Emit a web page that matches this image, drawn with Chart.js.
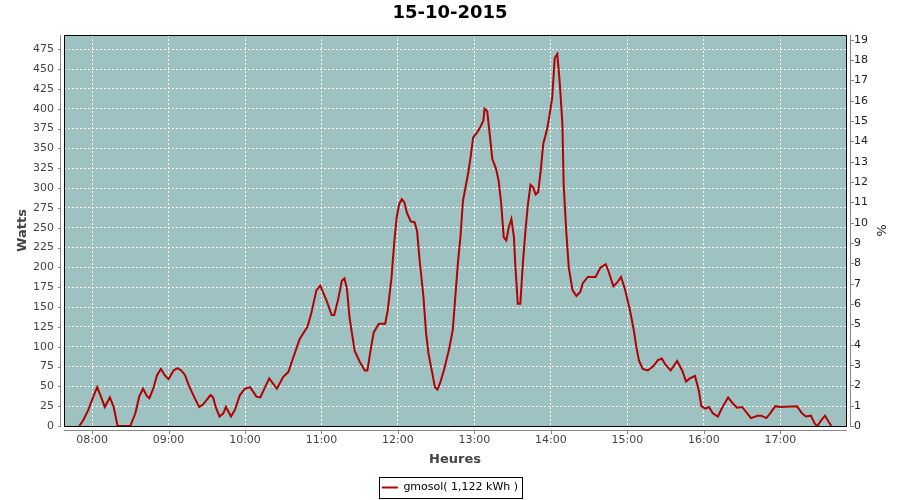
<!DOCTYPE html>
<html><head><meta charset="utf-8">
<script src="https://cdn.jsdelivr.net/npm/chart.js@4.4.0/dist/chart.umd.min.js"></script>
<style>html,body{margin:0;padding:0;background:#fff}canvas{display:block}</style>
</head><body>
<canvas id="c" width="900" height="500"></canvas>
<script>
const chartTitle = '15-10-2015';
const seriesLabel = 'gmosol( 1,122 kWh )';
const xAxisTitle = 'Heures';
const yAxisTitle = 'Watts';
const y2AxisTitle = '%';

const times = ['07:50','07:53','07:57','08:01','08:04','08:07','08:10','08:14','08:17','08:20','08:30','08:34','08:37','08:40','08:43','08:45','08:48','08:51','08:54','08:57','09:00','09:04','09:07','09:10','09:13','09:16','09:20','09:24','09:27','09:33','09:35','09:37','09:40','09:43','09:45','09:49','09:52','09:56','10:00','10:04','10:09','10:12','10:19','10:25','10:30','10:34','10:38','10:43','10:49','10:52','10:56','10:59','11:04','11:08','11:10','11:13','11:16','11:18','11:20','11:22','11:26','11:30','11:34','11:36','11:39','11:41','11:45','11:50','11:52','11:55','11:57','11:59','12:01','12:03','12:05','12:07','12:10','12:13','12:15','12:17','12:20','12:22','12:24','12:27','12:29','12:31','12:33','12:36','12:40','12:43','12:45','12:47','12:49','12:51','12:53','12:55','12:57','12:59','13:02','13:04','13:07','13:08','13:10','13:12','13:14','13:17','13:19','13:21','13:23','13:25','13:27','13:29','13:31','13:32','13:34','13:36','13:38','13:40','13:42','13:44','13:46','13:48','13:50','13:52','13:54','13:57','13:59','14:01','14:03','14:05','14:07','14:09','14:10','14:12','14:14','14:17','14:20','14:23','14:25','14:29','14:35','14:39','14:43','14:45','14:49','14:52','14:55','14:58','15:02','15:05','15:07','15:09','15:12','15:16','15:20','15:24','15:27','15:30','15:34','15:39','15:43','15:46','15:49','15:53','15:56','15:58','16:01','16:04','16:07','16:11','16:14','16:19','16:23','16:26','16:30','16:34','16:37','16:42','16:45','16:49','16:52','16:56','17:00','17:13','17:17','17:20','17:24','17:27','17:29','17:32','17:35','17:38','17:40'];
const watts = [0,7,20,37,49,37,24,36,24,0,0,16,37,47,38,35,47,64,72,64,59,70,73,70,64,51,37,24,27,39,36,24,12,16,24,12,20,39,47,49,37,36,60,47,62,68,87,110,125,142,171,177,158,140,140,159,183,186,173,137,95,81,70,70,100,118,129,129,146,188,230,263,280,286,282,269,258,257,246,209,163,118,91,66,49,46,54,70,96,121,163,205,238,284,301,318,339,364,370,375,385,400,397,368,337,324,309,280,238,234,251,261,238,205,154,154,205,246,280,304,301,292,295,322,356,374,393,414,464,469,431,381,305,246,200,171,164,169,180,188,188,200,204,196,176,181,188,173,146,121,100,83,72,70,75,83,85,77,70,82,70,56,60,63,45,25,22,24,16,12,22,36,28,23,24,16,10,13,13,10,16,25,24,25,16,12,13,3,0,7,13,5,0];

const xTickLabels = ['08:00','09:00','10:00','11:00','12:00','13:00','14:00','15:00','16:00','17:00'];
const wattTicks = [0,25,50,75,100,125,150,175,200,225,250,275,300,325,350,375,400,425,450,475];
const pctTicks = [0,1,2,3,4,5,6,7,8,9,10,11,12,13,14,15,16,17,18,19];

const toMin = s => { const p = s.split(':').map(Number); return p[0] * 60 + p[1]; };

const PLOT_BG = '#9dc2c1';
const LINE_RED = '#b40000';
const AXIS_GRAY = '#888888';
const FONT = "'DejaVu Sans', sans-serif";

const framePlugin = {
  id: 'frame',
  beforeDraw(chart) {
    const {ctx, chartArea: a} = chart;
    ctx.save();
    ctx.fillStyle = PLOT_BG;
    ctx.fillRect(a.left, a.top, a.right - a.left, a.bottom - a.top);
    ctx.restore();
  },
  afterDraw(chart) {
    const {ctx, chartArea: a, scales} = chart;
    ctx.save();
    ctx.lineWidth = 1;
    ctx.strokeStyle = '#000';
    ctx.strokeRect(a.left + 0.5, a.top + 0.5, a.right - a.left, a.bottom - a.top);
    // offset axis lines
    ctx.strokeStyle = AXIS_GRAY;
    ctx.beginPath();
    ctx.moveTo(a.left - 3.5, a.top); ctx.lineTo(a.left - 3.5, a.bottom + 1);
    ctx.moveTo(a.left, a.bottom + 4.5); ctx.lineTo(a.right + 1, a.bottom + 4.5);
    ctx.moveTo(a.right + 4.5, a.top); ctx.lineTo(a.right + 4.5, a.bottom + 1);
    scales.y.ticks.forEach(t => {
      const p = Math.round(scales.y.getPixelForValue(t.value)) + 0.5;
      ctx.moveTo(a.left - 6, p); ctx.lineTo(a.left - 3, p);
    });
    scales.y1.ticks.forEach(t => {
      const p = Math.round(scales.y1.getPixelForValue(t.value)) + 0.5;
      ctx.moveTo(a.right + 5, p); ctx.lineTo(a.right + 8, p);
    });
    scales.x.ticks.forEach(t => {
      const p = Math.round(scales.x.getPixelForValue(t.value)) + 0.5;
      ctx.moveTo(p, a.bottom + 5); ctx.lineTo(p, a.bottom + 8);
    });
    ctx.stroke();
    // legend frame
    const lg = chart.legend;
    if (lg && lg.legendHitBoxes && lg.legendHitBoxes.length) {
      const hb = lg.legendHitBoxes[0];
      const cy = hb.top + hb.height / 2;
      ctx.strokeStyle = '#000';
      ctx.strokeRect(Math.round(hb.left - 3) + 0.5, Math.round(cy - 10.5) + 0.5, Math.round(hb.width + 7), 21);
    }
    ctx.restore();
  }
};

new Chart(document.getElementById('c'), {
  type: 'line',
  data: {
    datasets: [{
      label: seriesLabel,
      data: times.map((t, i) => ({x: toMin(t), y: watts[i]})),
      borderColor: LINE_RED,
      backgroundColor: LINE_RED,
      borderWidth: 2,
      pointRadius: 0,
      tension: 0,
      fill: false,
      yAxisID: 'y'
    }]
  },
  options: {
    responsive: false,
    animation: false,
    devicePixelRatio: 1,
    events: [],
    layout: {padding: {top: 0, left: 0, right: 0, bottom: -3}},
    plugins: {
      title: {
        display: true,
        text: chartTitle,
        color: '#000',
        font: {family: FONT, size: 18, weight: 'bold'},
        padding: {top: 3, bottom: 10.4}
      },
      legend: {
        display: true,
        position: 'bottom',
        labels: {
          font: {family: FONT, size: 11},
          color: '#444',
          boxWidth: 16,
          boxHeight: 2,
          padding: 7,
          generateLabels: (chart) => [{
            text: seriesLabel, fillStyle: LINE_RED, strokeStyle: LINE_RED,
            lineWidth: 0, hidden: false, datasetIndex: 0
          }]
        }
      },
      tooltip: {enabled: false}
    },
    scales: {
      x: {
        type: 'linear',
        position: 'bottom',
        min: toMin('07:38'),
        max: 1071.5,
        afterBuildTicks: s => { s.ticks = xTickLabels.map(l => ({value: toMin(l)})); },
        afterFit: s => { s.height = 49; },
        ticks: {
          autoSkip: false, maxRotation: 0, padding: 8,
          color: '#444', font: {family: FONT, size: 11},
          callback: (v, i) => xTickLabels[i]
        },
        grid: {color: '#ffffff', lineWidth: 1, drawTicks: false},
        border: {display: false, dash: [2, 2]},
        title: {display: true, text: xAxisTitle, color: '#444',
          font: {family: FONT, size: 13, weight: 'bold'}, padding: {top: 0, bottom: 7.4}}
      },
      y: {
        type: 'linear',
        position: 'left',
        min: 0,
        max: 493,
        afterBuildTicks: s => { s.ticks = wattTicks.map(v => ({value: v})); },
        afterFit: s => { s.width = 64; },
        ticks: {padding: 10, color: '#444', font: {family: FONT, size: 11}},
        grid: {color: '#ffffff', lineWidth: 1, drawTicks: false},
        border: {display: false, dash: [2, 2]},
        title: {display: true, text: yAxisTitle, color: '#444',
          font: {family: FONT, size: 13, weight: 'bold'}, padding: {top: 15, bottom: 0}}
      },
      y1: {
        type: 'linear',
        position: 'right',
        min: 0,
        max: 19.23,
        afterBuildTicks: s => { s.ticks = pctTicks.map(v => ({value: v})); },
        afterFit: s => { s.width = 54; },
        ticks: {padding: 8, color: '#222', font: {family: FONT, size: 11}},
        grid: {drawOnChartArea: false, drawTicks: false},
        border: {display: false},
        title: {display: true, text: y2AxisTitle, color: '#222',
          font: {family: FONT, size: 13}, padding: {top: 12, bottom: 0}}
      }
    }
  },
  plugins: [framePlugin]
});
</script>
</body></html>
